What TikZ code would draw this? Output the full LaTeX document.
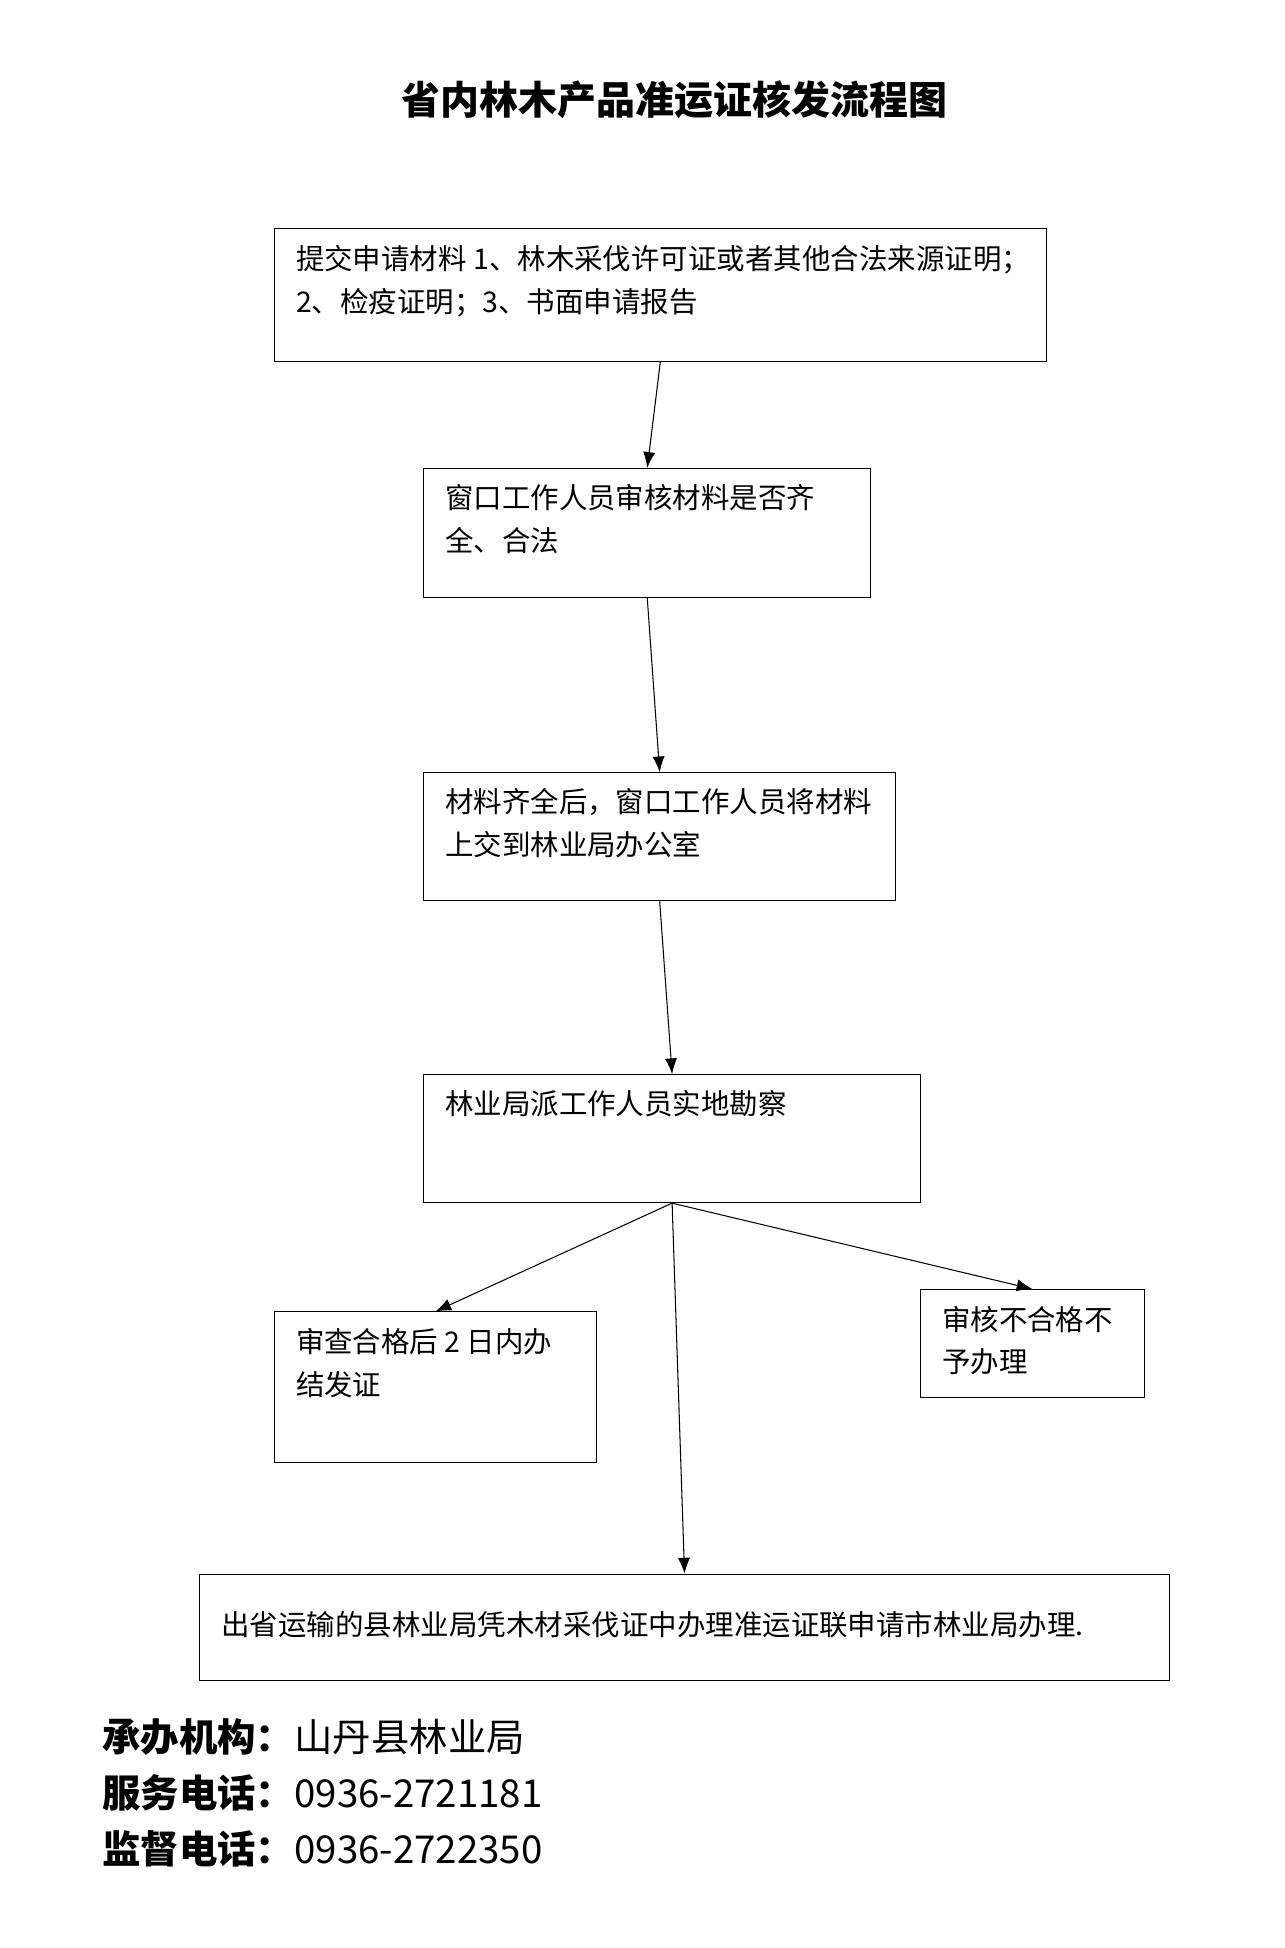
\documentclass[tikz,border=0pt]{standalone}
\usepackage{fontspec}
\newfontfamily\cjk{Noto Sans CJK SC}
\usetikzlibrary{arrows.meta}
\begin{document}
\begin{tikzpicture}[x=0.025cm,y=-0.025cm,
  box/.style={draw,line width=0.6pt,inner sep=0pt},
  txt/.style={anchor=north west,inner sep=0pt,align=left,font=\cjk\fontsize{16.3}{24.5}\selectfont},
  foot/.style={anchor=west,inner sep=0pt,font=\cjk\fontsize{22}{24}\selectfont},
  flow/.style={-{Latex[length=9pt,width=7pt]},line width=0.6pt}]
\useasboundingbox (0,0) rectangle (1034,1568);
% Title
\node[font=\cjk\bfseries\fontsize{22.3}{26}\selectfont] (title) at (543,80) {省内林木产品准运证核发流程图};
% Boxes
\node[box,minimum width=15.525cm,minimum height=2.675cm] (b1) at (531.5,237.5) {};
\node[box,minimum width=9cm,minimum height=2.6cm] (b2) at (521,429) {};
\node[box,minimum width=9.5cm,minimum height=2.575cm] (b3) at (531,673.5) {};
\node[box,minimum width=10cm,minimum height=2.575cm] (b4) at (541,916.5) {};
\node[box,minimum width=6.475cm,minimum height=3.025cm] (b5) at (350.5,1116.5) {};
\node[box,minimum width=4.5cm,minimum height=2.175cm] (b6) at (831,1081.5) {};
\node[box,minimum width=19.5cm,minimum height=2.15cm] (b7) at (551,1310) {};
% Texts
\node[txt] (t1) at (238,197) {提交申请材料 1、林木采伐许可证或者其他合法来源证明；\\2、检疫证明；3、书面申请报告};
\node[txt] (t2) at (358,390) {窗口工作人员审核材料是否齐\\全、合法};
\node[txt] (t3) at (358,634) {材料齐全后，窗口工作人员将材料\\上交到林业局办公室};
\node[txt] (t4) at (358,877) {林业局派工作人员实地勘察};
\node[txt] (t5) at (238,1069) {审查合格后 2 日内办\\结发证};
\node[txt] (t6) at (758,1051) {审核不合格不\\予办理};
\node[txt] (t7) at (178,1297) {出省运输的县林业局凭木材采伐证中办理准运证联申请市林业局办理.};
% Arrows
\draw[flow] (b1.south) -- (b2.north);
\draw[flow] (b2.south) -- (b3.north);
\draw[flow] (b3.south) -- (b4.north);
\draw[flow] (b4.south) -- (b5.north);
\draw[flow] (b4.south) -- (b6.north);
\draw[flow] (b4.south) -- (b7.north);
% Footer
\node[foot] (f1) at (82,1398) {\bfseries 承办机构：\mdseries 山丹县林业局};
\node[foot] (f2) at (82,1443) {\bfseries 服务电话：\mdseries 0936-2721181};
\node[foot] (f3) at (82,1488) {\bfseries 监督电话：\mdseries 0936-2722350};
\end{tikzpicture}
\end{document}
